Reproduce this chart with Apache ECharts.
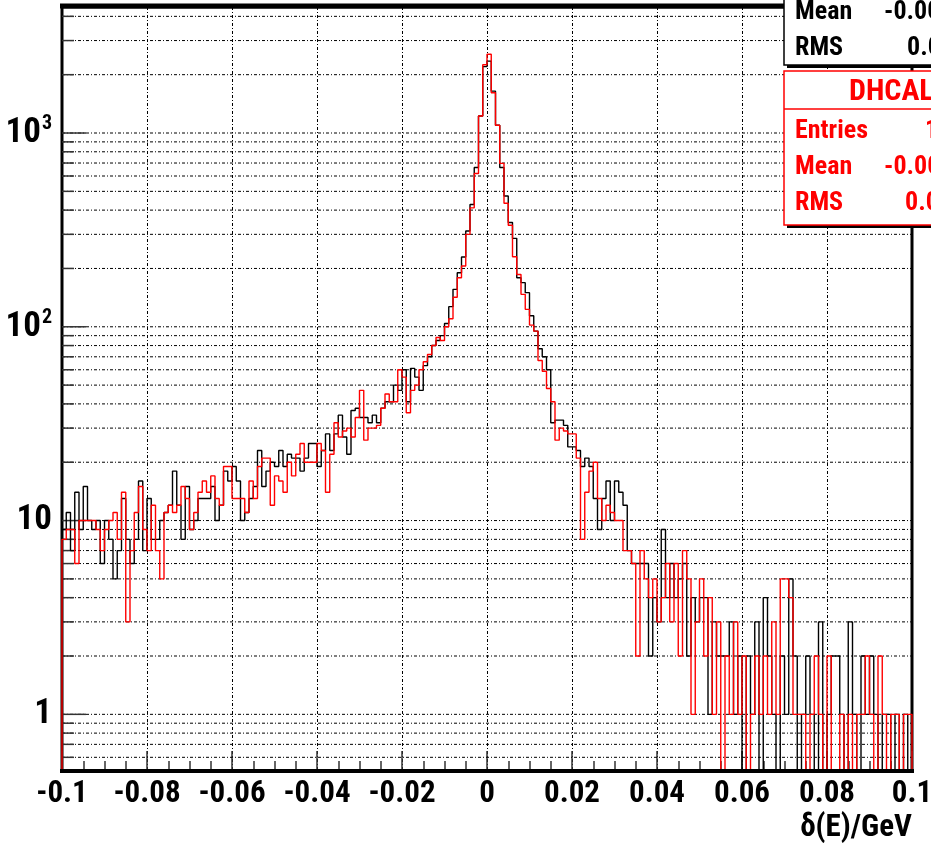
<!DOCTYPE html>
<html><head><meta charset="utf-8">
<script src="https://cdn.jsdelivr.net/npm/echarts@6/dist/echarts.min.js"></script>
<style>html,body{margin:0;padding:0;background:#fff}#c{width:931px;height:853px}</style>
</head><body><div id="c"></div>
<script>
// ---- data: 200 bins from -0.1 to 0.1 (bin width 0.001) ----
const binLow = -0.1;
const binWidth = 0.001;
const blackCounts = [
  9, 11, 7, 14, 9, 15, 10, 9, 10, 6,
  10, 8, 5, 7, 13, 8, 6, 8, 16, 7,
  13, 8, 8, 10, 11, 12, 18, 12, 8, 15,
  9, 10, 13, 13, 13, 15, 10, 12, 18, 16,
  19, 16, 10, 11, 13, 15, 23, 15, 18, 20,
  19, 23, 19, 22, 21, 21, 18, 21, 25, 25,
  19, 23, 28, 23, 28, 35, 27, 22, 37, 38,
  34, 34, 32, 35, 32, 38, 41, 41, 50, 47,
  60, 41, 61, 55, 47, 63, 70, 80, 85, 90,
  104, 127, 156, 190, 229, 312, 428, 664, 1224, 2200,
  2350, 1645, 1097, 664, 473, 345, 286, 179, 169, 150,
  114, 95, 77, 70, 60, 32, 33, 33, 31, 24,
  24, 23, 19, 21, 19, 13, 9, 13, 16, 10,
  16, 14, 12, 7, 6, 6, 6, 6, 2, 4,
  3, 9, 4, 6, 4, 5, 6, 2, 4, 3,
  4, 4, 1, 3, 2, 2, 2, 3, 1, 2,
  0, 2, 1, 3, 0, 4, 2, 1, 0, 2,
  1, 5, 2, 0, 1, 2, 1, 0, 3, 0,
  1, 2, 2, 1, 0, 3, 1, 0, 2, 1,
  2, 1, 0, 1, 1, 0, 1, 0, 1, 0
];
const redCounts = [
  8, 9, 9, 6, 10, 10, 10, 10, 9, 7,
  9, 10, 11, 8, 14, 3, 7, 11, 15, 9,
  7, 12, 7, 5, 11, 12, 11, 12, 15, 13,
  9, 11, 14, 16, 14, 17, 13, 12, 19, 19,
  13, 13, 13, 11, 16, 13, 19, 21, 21, 12,
  17, 16, 14, 20, 17, 22, 25, 20, 20, 20,
  25, 23, 14, 22, 32, 27, 29, 30, 27, 34,
  47, 26, 30, 30, 31, 38, 45, 41, 41, 60,
  55, 36, 47, 50, 60, 66, 72, 80, 88, 85,
  100, 110, 142, 179, 206, 300, 411, 618, 1224, 2250,
  2550, 1614, 1097, 697, 434, 334, 230, 186, 147, 123,
  102, 95, 67, 59, 48, 41, 26, 30, 29, 28,
  28, 21, 8, 14, 18, 20, 13, 10, 12, 11,
  10, 10, 7, 7, 6, 2, 7, 5, 4, 5,
  3, 4, 6, 3, 6, 2, 7, 5, 1, 3,
  5, 2, 4, 1, 3, 0, 2, 1, 3, 1,
  2, 0, 1, 2, 1, 2, 1, 3, 1, 5,
  5, 4, 1, 1, 1, 0, 1, 2, 1, 0,
  2, 0, 0, 1, 0, 1, 0, 1, 1, 2,
  1, 0, 2, 1, 0, 1, 1, 0, 1, 1
];
const xTickValues = [-0.1, -0.08, -0.06, -0.04, -0.02, 0, 0.02, 0.04, 0.06, 0.08, 0.1];
const xTickLabels = ['-0.1', '-0.08', '-0.06', '-0.04', '-0.02', '0', '0.02', '0.04', '0.06', '0.08', '0.1'];
const yTickValues = [1, 10, 100, 1000];
const yTickBase = ['1', '10', '10', '10'];
const yTickExp = ['', '', '2', '3'];
const yGridValues = [0.6, 0.7, 0.8, 0.9, 1, 2, 3, 4, 5, 6, 7, 8, 9, 10, 20, 30, 40, 50, 60, 70, 80, 90,
  100, 200, 300, 400, 500, 600, 700, 800, 900, 1000, 2000, 3000, 4000];
const xTitle = '\u03b4(E)/GeV';
const statsBlack = {labels: ['Mean', 'RMS'], values: ['-0.00', '0.0']};
const statsRed = {title: 'DHCAL', labels: ['Entries', 'Mean', 'RMS'], values: ['1', '-0.00', '0.0']};

// ---- chart ----
const X_MIN = -0.1, X_MAX = 0.1, Y_MIN = 0.51, Y_MAX = 4470, FLOOR = 0.1;
const FONT = '"Roboto Condensed", "Open Sans Condensed", "DejaVu Sans Condensed", sans-serif';

function stepData(counts) {
  const d = [[X_MIN, FLOOR]];
  counts.forEach((c, i) => d.push([binLow + i * binWidth, c > 0 ? c : FLOOR]));
  const last = counts[counts.length - 1];
  d.push([X_MAX, last > 0 ? last : FLOOR]);
  d.push([X_MAX, FLOOR]);
  return d;
}

const chart = echarts.init(document.getElementById('c'), null, {renderer: 'canvas'});
const statFont = 'bold 26px ' + FONT;
const titleFont = 'bold 30px ' + FONT;
const graphics = [
  {type: 'line', z: 90, shape: {x1: 60, y1: 6, x2: 800, y2: 6}, style: {stroke: '#000', lineWidth: 5}},
  {type: 'line', z: 90, shape: {x1: 60, y1: 771, x2: 914, y2: 771}, style: {stroke: '#000', lineWidth: 4}},
  {type: 'rect', z: 100, shape: {x: 787, y: -20, width: 160, height: 88}, style: {fill: '#000'}},
  {type: 'rect', z: 101, shape: {x: 784, y: -20, width: 160, height: 85}, style: {fill: '#fff', stroke: '#000', lineWidth: 1.5}},
  {type: 'rect', z: 100, shape: {x: 787, y: 74, width: 160, height: 154}, style: {fill: '#000'}},
  {type: 'rect', z: 101, shape: {x: 784, y: 71, width: 160, height: 154}, style: {fill: '#fff', stroke: '#f00', lineWidth: 1.5}},
  {type: 'line', z: 102, shape: {x1: 784, y1: 109, x2: 931, y2: 109}, style: {stroke: '#f00', lineWidth: 1.5}},
  {type: 'text', z: 103, style: {x: 849, y: 92, text: statsRed.title, font: titleFont, fill: '#f00', verticalAlign: 'middle'}}
];
const rowYBlack = [12, 48], rowYRed = [131, 167, 203];
const valXBlack = [884, 907], valXRed = [925, 884, 905];
statsBlack.labels.forEach((t, i) => {
  graphics.push({type: 'text', z: 103, style: {x: 795, y: rowYBlack[i], text: t, font: statFont, fill: '#000', verticalAlign: 'middle'}});
  graphics.push({type: 'text', z: 103, style: {x: valXBlack[i], y: rowYBlack[i], text: statsBlack.values[i], font: statFont, fill: '#000', verticalAlign: 'middle'}});
});
statsRed.labels.forEach((t, i) => {
  graphics.push({type: 'text', z: 103, style: {x: 795, y: rowYRed[i], text: t, font: statFont, fill: '#f00', verticalAlign: 'middle'}});
  graphics.push({type: 'text', z: 103, style: {x: valXRed[i], y: rowYRed[i], text: statsRed.values[i], font: statFont, fill: '#f00', verticalAlign: 'middle'}});
});

chart.setOption({
  animation: false,
  backgroundColor: '#fff',
  grid: {left: 62, right: 19, top: 7, bottom: 82, show: true, borderColor: '#000', borderWidth: 3, backgroundColor: 'transparent', containLabel: false, outerBoundsMode: 'none'},
  xAxis: {
    type: 'value', min: X_MIN, max: X_MAX, interval: 0.02,
    axisLine: {show: false},
    axisTick: {show: true, inside: true, length: 20, lineStyle: {color: '#333', width: 1.5}},
    minorTick: {show: true, splitNumber: 4, length: 10, lineStyle: {color: '#333', width: 1.5}},
    splitLine: {show: true, lineStyle: {color: '#000', width: 1, type: [3, 2, 1, 2]}},
    axisLabel: {
      show: true, margin: 8, interval: 0, showMinLabel: true, showMaxLabel: true, hideOverlap: false,
      color: '#000', fontFamily: FONT, fontWeight: 'bold', fontSize: 31,
      formatter: v => {
        let best = 0;
        xTickValues.forEach((t, i) => { if (Math.abs(t - v) < Math.abs(xTickValues[best] - v)) best = i; });
        return Math.abs(xTickValues[best] - v) < 1e-6 ? xTickLabels[best] : '';
      }
    },
    name: xTitle, nameLocation: 'end', nameGap: 0,
    nameTextStyle: {color: '#000', fontFamily: FONT, fontWeight: 'bold', fontSize: 31, align: 'right', verticalAlign: 'top', padding: [42, 0, 0, 0]}
  },
  yAxis: {
    type: 'log', logBase: 10, min: Y_MIN, max: Y_MAX,
    axisLine: {show: false}, axisTick: {show: false}, splitLine: {show: false}, minorTick: {show: false},
    axisLabel: {
      show: true, margin: 10, showMinLabel: true, showMaxLabel: true, hideOverlap: false,
      color: '#000', fontFamily: FONT, fontWeight: 'bold', fontSize: 35,
      formatter: v => {
        const i = yTickValues.findIndex(t => Math.abs(t - v) < 1e-6 * t);
        if (i < 0) return '';
        return yTickExp[i] ? '{b|' + yTickBase[i] + '}{s|' + yTickExp[i] + '}' : '{b|' + yTickBase[i] + '}';
      },
      rich: {
        b: {fontFamily: FONT, fontWeight: 'bold', fontSize: 35, color: '#000'},
        s: {fontFamily: FONT, fontWeight: 'bold', fontSize: 20, color: '#000', padding: [0, 0, 18, 1]}
      }
    }
  },
  graphic: graphics,
  series: [
    {
      type: 'custom', coordinateSystem: 'cartesian2d', silent: true, z: 1, clip: false,
      data: yGridValues.map(v => [0, v]), encode: {x: 0, y: 1},
      renderItem: (params, api) => {
        const v = api.value(1);
        const y = api.coord([0, v])[1];
        const cs = params.coordSys;
        const major = yTickValues.some(t => Math.abs(t - v) < 1e-6 * t);
        return {type: 'group', children: [
          {type: 'line', shape: {x1: cs.x, y1: y, x2: cs.x + cs.width, y2: y}, style: {stroke: '#000', lineWidth: 1, lineDash: [3, 2, 1, 2]}},
          {type: 'line', shape: {x1: cs.x, y1: y, x2: cs.x + (major ? 24 : 12), y2: y}, style: {stroke: '#333', lineWidth: 1.5}}
        ]};
      }
    },
    {name: 'h', type: 'line', step: 'end', data: stepData(blackCounts), symbol: 'none', clip: true, z: 3,
      lineStyle: {color: '#000', width: 1.4}, itemStyle: {color: '#000'}},
    {name: 'DHCAL', type: 'line', step: 'end', data: stepData(redCounts), symbol: 'none', clip: true, z: 4,
      lineStyle: {color: '#f00', width: 1.4}, itemStyle: {color: '#f00'}}
  ]
});
</script></body></html>
